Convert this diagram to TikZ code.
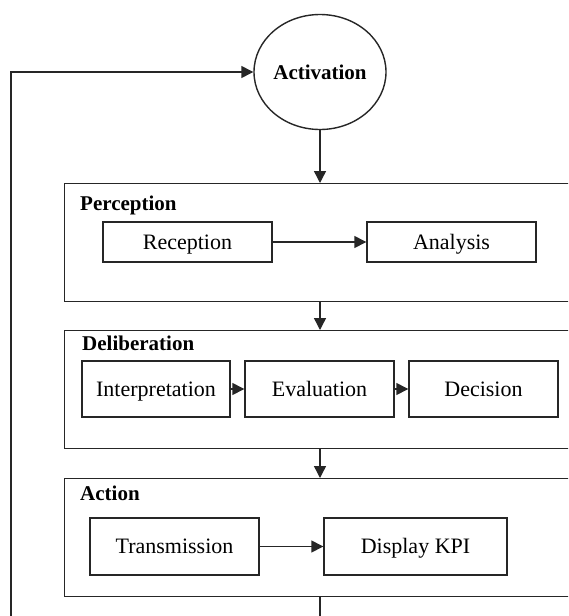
\documentclass[tikz,border=0pt]{standalone}
\usepackage{fontspec}
\setmainfont{Liberation Serif}
\usetikzlibrary{shapes.geometric,arrows.meta}
\tikzset{
  x=1pt, y=-1pt,
  ln/.style={line width=1.4pt, draw=black!85},
  arr/.style={ln, -{Triangle[length=12pt,width=12pt]}},
  box/.style={ln, rectangle, inner sep=0pt, font=\fontsize{22}{26}\selectfont, text height=15pt, text depth=1pt},
  stage/.style={ln, rectangle, inner sep=0pt, anchor=north west, minimum width=560pt},
  lbl/.style={anchor=base west, inner sep=0pt, font=\fontsize{21}{25}\selectfont\bfseries},
}
\begin{document}
\begin{tikzpicture}
\useasboundingbox (0,0) rectangle (568,616);
\clip (0,0) rectangle (568,616);
\fill[white] (0,0) rectangle (568,616);

\node[ellipse, ln, minimum width=132pt, minimum height=115pt, inner sep=0pt,
      font=\fontsize{21}{25}\selectfont\bfseries] (act) at (320,72) {Activation};

% stages
\node[stage, minimum height=118pt] (perc) at (64,183) {};
\node[stage, minimum height=118pt] (deli) at (64,330) {};
\node[stage, minimum height=118pt] (acti) at (64,478) {};

\node[lbl] (lperc) at (80,210) {Perception};
\node[lbl] (ldeli) at (82,350) {Deliberation};
\node[lbl] (lacti) at (80,500) {Action};

% inner boxes
\node[box, minimum width=169pt, minimum height=40pt] (rec) at (187.5,242) {Reception};
\node[box, minimum width=169pt, minimum height=40pt] (ana) at (451.5,242) {Analysis};

\node[box, minimum width=148pt, minimum height=56pt] (int) at (156,389) {Interpretation};
\node[box, minimum width=149pt, minimum height=56pt] (eva) at (319.5,389) {Evaluation};
\node[box, minimum width=149pt, minimum height=56pt] (dec) at (483.5,389) {Decision};

\node[box, minimum width=169pt, minimum height=57pt] (tra) at (174.5,546.5) {Transmission};
\node[box, minimum width=183pt, minimum height=57pt] (dis) at (415.5,546.5) {Display KPI};

% connectors
\draw[arr] (act.south) -- (act.south |- perc.north);
\draw[arr] (act.south |- perc.south) -- (act.south |- deli.north);
\draw[arr] (act.south |- deli.south) -- (act.south |- acti.north);
\draw[arr] (rec) -- (ana);
\draw[arr] (int) -- (eva);
\draw[arr] (eva) -- (dec);
\draw[arr] (tra) -- (dis);

\coordinate (lc) at (11,650);
\draw[arr] (act.south |- acti.south) |- (lc) |- (act.west);
\end{tikzpicture}
\end{document}
